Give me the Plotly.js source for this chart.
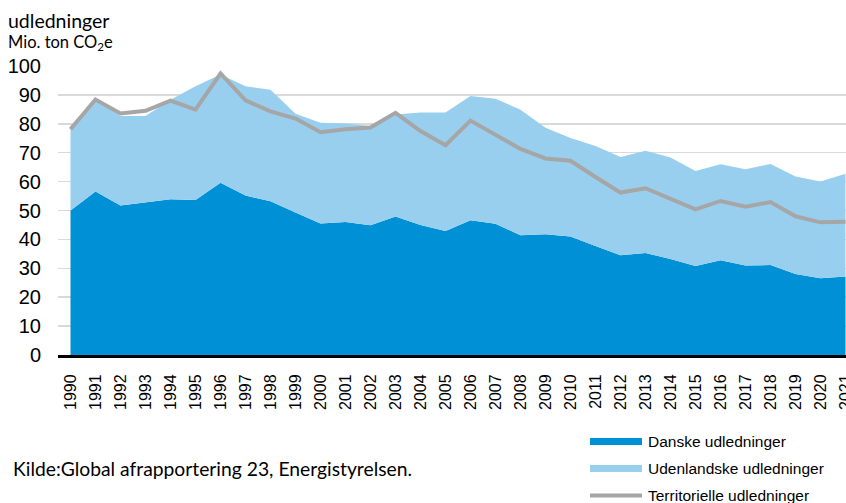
<!DOCTYPE html>
<html>
<head>
<meta charset="utf-8">
<script src="https://cdn.plot.ly/plotly-3.0.1.min.js"></script>
<style>
  html, body { margin: 0; padding: 0; background: #fff; }
  #chart { width: 846px; height: 503px; }
</style>
</head>
<body>
<div id="chart"></div>
<script>
// ---- Data (Mio. ton CO2e) ----
const years = [1990,1991,1992,1993,1994,1995,1996,1997,1998,1999,2000,2001,2002,2003,2004,2005,2006,2007,2008,2009,2010,2011,2012,2013,2014,2015,2016,2017,2018,2019,2020,2021];
const yearLabels = years.map(String);
const danske = [50.0,56.6,51.7,52.9,53.9,53.6,59.6,55.2,53.2,49.3,45.5,46.0,44.9,47.9,45.0,42.9,46.6,45.4,41.4,41.8,41.0,37.7,34.5,35.3,33.2,30.8,32.8,31.0,31.1,28.0,26.6,27.2];
const udenlandske = [29.2,31.9,31.0,29.8,34.4,39.4,37.5,37.8,38.6,34.2,34.9,34.1,34.3,35.3,38.9,41.0,43.0,43.3,43.5,36.8,34.1,34.6,34.0,35.4,35.1,32.9,33.2,33.3,35.0,33.8,33.4,35.5];
const territorielle = [78.1,88.4,83.6,84.5,88.0,84.9,97.4,88.1,84.3,81.8,77.1,78.1,78.7,83.8,77.5,72.6,81.1,76.0,71.3,68.0,67.2,61.6,56.2,57.7,54.0,50.4,53.3,51.3,52.9,48.0,45.9,46.1];
const yTicks = [0,10,20,30,40,50,60,70,80,90,100];
const seriesNames = ["Danske udledninger","Udenlandske udledninger","Territorielle udledninger"];

// ---- Styles ----
const cDark = "#0090D6", cLight = "#99CFEE", cGray = "#A6A6A6";
const W = 846, H = 503;
const M = {l: 58, r: 0, t: 66, b: 148};
const PW = W - M.l - M.r, PH = H - M.t - M.b;
const px = x => (x - M.l) / PW;
const py = y => (H - M.b - y) / PH;

const traces = [
  {x: years, y: danske, name: seriesNames[0], type: "scatter", mode: "lines",
   stackgroup: "s", line: {width: 0, color: cDark}, fillcolor: cDark, hoverinfo: "skip", showlegend: false},
  {x: years, y: udenlandske, name: seriesNames[1], type: "scatter", mode: "lines",
   stackgroup: "s", line: {width: 0, color: cLight}, fillcolor: cLight, hoverinfo: "skip", showlegend: false},
  {x: years, y: territorielle, name: seriesNames[2], type: "scatter", mode: "lines",
   line: {width: 4, color: cGray, shape: "linear"}, hoverinfo: "skip", showlegend: false}
];

const sans = "Liberation Sans, Arial, sans-serif";
const cal = "Lato, Open Sans, sans-serif";

const legendRows = [441.5, 468.5, 495.5];
const shapes = [
  {type: "rect", xref: "paper", yref: "paper", x0: px(590), x1: px(642), y0: py(legendRows[0]-3.5), y1: py(legendRows[0]+3.5), fillcolor: cDark, line: {width: 0}},
  {type: "rect", xref: "paper", yref: "paper", x0: px(590), x1: px(642), y0: py(legendRows[1]-3.5), y1: py(legendRows[1]+3.5), fillcolor: cLight, line: {width: 0}},
  {type: "line", xref: "paper", yref: "paper", x0: px(590), x1: px(642), y0: py(legendRows[2]), y1: py(legendRows[2]), line: {width: 4, color: cGray}}
];

const annotations = [
  {text: "udledninger", xref: "paper", yref: "paper", x: px(6), y: py(20), xanchor: "left", yanchor: "middle", showarrow: false, font: {family: cal, size: 19.5, color: "#000"}},
  {text: "Mio. ton CO<sub>2</sub>e", xref: "paper", yref: "paper", x: px(6), y: py(43), xanchor: "left", yanchor: "middle", showarrow: false, font: {family: cal, size: 16.5, color: "#000"}},
  {text: "Kilde:Global afrapportering 23, Energistyrelsen.", xref: "paper", yref: "paper", x: px(11), y: py(468), xanchor: "left", yanchor: "middle", showarrow: false, font: {family: cal, size: 19.3, color: "#000"}}
];
seriesNames.forEach((n, i) => annotations.push({
  text: n, xref: "paper", yref: "paper", x: px(646), y: py(legendRows[i]), xanchor: "left", yanchor: "middle",
  showarrow: false, font: {family: sans, size: 15.5, color: "#000"}
}));

const layout = {
  width: W, height: H, autosize: false,
  margin: M,
  paper_bgcolor: "#fff", plot_bgcolor: "#fff",
  showlegend: false,
  xaxis: {
    type: "linear", range: [1989.5, 1989.5 + PW / 25],
    tickmode: "array", tickvals: years, ticktext: yearLabels,
    tickangle: -90, tickfont: {family: sans, size: 16, color: "#000"},
    showgrid: false, zeroline: false, showline: true, linecolor: "#000", linewidth: 3,
    ticks: "", ticklabelstandoff: 10, ticklabeloverflow: "allow", fixedrange: true
  },
  yaxis: {
    range: [0, 100], tickmode: "array", tickvals: yTicks, ticktext: yTicks.map(String),
    tickfont: {family: sans, size: 20, color: "#000"},
    showgrid: true, gridcolor: "#D9D9D9", gridwidth: 1.5,
    zeroline: false, showline: false, ticks: "", ticklabelstandoff: 16, fixedrange: true
  },
  shapes: shapes,
  annotations: annotations
};

Plotly.newPlot("chart", traces, layout, {staticPlot: true, displayModeBar: false});
</script>
</body>
</html>
